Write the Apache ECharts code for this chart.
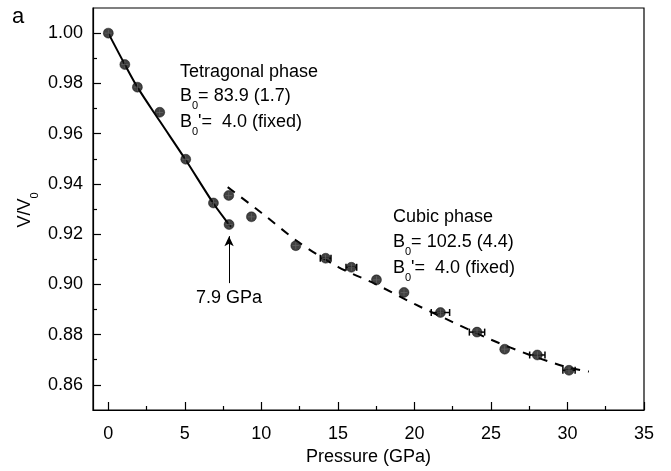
<!DOCTYPE html>
<html>
<head>
<meta charset="utf-8">
<script src="https://cdn.jsdelivr.net/npm/echarts@6/dist/echarts.min.js"></script>
<style>
html,body{margin:0;padding:0;background:#fff;}
#c{width:671px;height:471px;}
</style>
</head>
<body>
<div id="c"></div>
<script>
// ---- data ----
const tetraP = [0, 1.08, 1.90, 3.36, 5.06, 6.87, 7.89];
const tetraV = [1.000, 0.9875, 0.9785, 0.9685, 0.9498, 0.9324, 0.9238];
const cubicP = [7.87, 9.35, 12.25, 14.2, 15.88, 17.52, 19.32, 21.7, 24.09, 25.9, 28.03, 30.1];
const cubicV = [0.9354, 0.9269, 0.9154, 0.9104, 0.9068, 0.9018, 0.8968, 0.8888, 0.8810, 0.8742, 0.8719, 0.8658];
const cubicPErr = [0, 0, 0, 0.35, 0.35, 0, 0, 0.6, 0.5, 0, 0.5, 0.4];
const tetraFitP = [0, 1.08, 1.9, 3.36, 5.06, 6.87, 7.89, 8.0];
const tetraFitV = [1.000, 0.9875, 0.9785, 0.9650, 0.9495, 0.9322, 0.9238, 0.9229];
const cubicFitP = [7.8, 10, 12.5, 15, 17.5, 20, 22.5, 25, 27.5, 30, 31.4];
const cubicFitV = [0.9387, 0.9285, 0.9165, 0.9070, 0.9000, 0.8922, 0.8850, 0.8780, 0.8720, 0.8670, 0.8653];
const xMajor = [0, 5, 10, 15, 20, 25, 30, 35];
const xMinor = [2.5, 7.5, 12.5, 17.5, 22.5, 27.5, 32.5];
const yMajor = [0.86, 0.88, 0.90, 0.92, 0.94, 0.96, 0.98, 1.00];
const yMinor = [0.87, 0.89, 0.91, 0.93, 0.95, 0.97, 0.99];
const arrowP = [7.89, 7.89];
const arrowV = [0.9005, 0.9192];

const FONT = '"Liberation Sans", Arial, sans-serif';
const FS = 18;
const zip = (a, b) => a.map((v, i) => [v, b[i]]);

const chart = echarts.init(document.getElementById('c'), null, {renderer: 'canvas'});

const xBase = {
  type: 'value', min: -1, max: 35, gridIndex: 0, position: 'bottom',
  splitLine: {show: false}
};
const yBase = {
  type: 'value', min: 0.85, max: 1.01, gridIndex: 0, position: 'left',
  splitLine: {show: false}
};

const plusPath = 'path://M4,0h1v4h4v1h-4v4h-1v-4h-4v-1h4z';

const option = {
  animation: false,
  backgroundColor: '#fff',
  grid: {left: 93, right: 27, top: 8, bottom: 59, show: true, borderColor: '#000', borderWidth: 1.2},
  xAxis: [
    Object.assign({}, xBase, {
      axisLine: {show: true, onZero: false, lineStyle: {color: '#000', width: 1.2}},
      axisTick: {show: true, inside: true, length: 8, customValues: xMajor, lineStyle: {color: '#000', width: 1.2}},
      axisLabel: {show: true, customValues: xMajor, margin: 15, color: '#000', fontSize: FS, fontFamily: FONT},
      name: 'Pressure (GPa)', nameLocation: 'middle', nameGap: 38,
      nameTextStyle: {color: '#000', fontSize: FS, fontFamily: FONT}
    }),
    Object.assign({}, xBase, {
      axisLine: {show: false, onZero: false},
      axisTick: {show: true, inside: true, length: 4, customValues: xMinor, lineStyle: {color: '#000', width: 1.2}},
      axisLabel: {show: false}
    })
  ],
  yAxis: [
    Object.assign({}, yBase, {
      axisLine: {show: true, onZero: false, lineStyle: {color: '#000', width: 1.2}},
      axisTick: {show: true, inside: true, length: 8, customValues: yMajor, lineStyle: {color: '#000', width: 1.2}},
      axisLabel: {show: true, customValues: yMajor, margin: 10, color: '#000', fontSize: FS, fontFamily: FONT,
        formatter: v => v.toFixed(2)}
    }),
    Object.assign({}, yBase, {
      axisLine: {show: false, onZero: false},
      axisTick: {show: true, inside: true, length: 4, customValues: yMinor, lineStyle: {color: '#000', width: 1.2}},
      axisLabel: {show: false}
    })
  ],
  series: [
    {
      type: 'line', name: 'tetraFit', data: zip(tetraFitP, tetraFitV), smooth: 0.3,
      showSymbol: false, symbol: 'none', lineStyle: {color: '#000', width: 2}, z: 2,
      markLine: {
        silent: true, symbol: ['none', 'arrow'], symbolSize: [7, 10],
        lineStyle: {color: '#000', width: 1, type: 'solid'}, label: {show: false},
        data: [[{coord: [arrowP[0], arrowV[0]]}, {coord: [arrowP[1], arrowV[1]]}]]
      }
    },
    {
      type: 'line', name: 'cubicFit', data: zip(cubicFitP, cubicFitV), smooth: 0.3,
      showSymbol: false, symbol: 'none', lineStyle: {color: '#000', width: 2, type: [9, 8]}, z: 2
    },
    {
      type: 'custom', name: 'err', z: 3,
      data: cubicP.map((p, i) => [p, cubicV[i], cubicPErr[i]]),
      renderItem: function (params, api) {
        const p = api.value(0), v = api.value(1), e = api.value(2);
        if (!e) return null;
        const a = api.coord([p - e, v]), b = api.coord([p + e, v]);
        const st = {stroke: '#000', lineWidth: 1.5};
        return {type: 'group', children: [
          {type: 'line', shape: {x1: a[0], y1: a[1], x2: b[0], y2: b[1]}, style: st},
          {type: 'line', shape: {x1: a[0], y1: a[1] - 3.5, x2: a[0], y2: a[1] + 3.5}, style: st},
          {type: 'line', shape: {x1: b[0], y1: b[1] - 3.5, x2: b[0], y2: b[1] + 3.5}, style: st}
        ]};
      }
    },
    {
      type: 'scatter', name: 'tetra', data: zip(tetraP, tetraV), symbol: 'circle', symbolSize: 10,
      itemStyle: {color: '#111', borderColor: '#000', borderWidth: 0.5}, z: 4
    },
    {
      type: 'scatter', name: 'cubic', data: zip(cubicP, cubicV), symbol: 'circle', symbolSize: 10,
      itemStyle: {color: '#111', borderColor: '#000', borderWidth: 0.5}, z: 4
    },
    {
      type: 'scatter', name: 'tetraX', data: zip(tetraP, tetraV), symbol: plusPath, symbolSize: 7,
      itemStyle: {color: '#6a6a6a'}, z: 5, silent: true
    },
    {
      type: 'scatter', name: 'cubicX', data: zip(cubicP, cubicV), symbol: plusPath, symbolSize: 7,
      itemStyle: {color: '#6a6a6a'}, z: 5, silent: true
    }
  ],
  graphic: []
};

chart.setOption(option);

const rich = {
  t: {fontSize: FS, fontFamily: FONT, color: '#000'},
  s: {fontSize: 11, fontFamily: FONT, color: '#000', padding: [20, 0, 0, 0]}
};
function txt(x, y, text, extra) {
  return Object.assign({
    type: 'text', x: x, y: y, z: 10, silent: true,
    style: {text: text, rich: rich, fill: '#000', font: FS + 'px ' + FONT, align: 'left', verticalAlign: 'middle'}
  }, extra || {});
}
chart.setOption({
  graphic: [
    txt(12, 17, 'a', {style: {text: 'a', fill: '#000', font: '22px ' + FONT, align: 'left', verticalAlign: 'middle'}}),
    txt(180, 72, '{t|Tetragonal phase}'),
    txt(180, 96, '{t|B}{s|0}{t|= 83.9 (1.7)}'),
    txt(180, 122, "{t|B}{s|0}{t|'=  4.0 (fixed)}"),
    txt(393, 217, '{t|Cubic phase}'),
    txt(393, 242, '{t|B}{s|0}{t|= 102.5 (4.4)}'),
    txt(393, 268, "{t|B}{s|0}{t|'=  4.0 (fixed)}"),
    txt(229, 298, '{t|7.9 GPa}', {style: {text: '{t|7.9 GPa}', rich: rich, align: 'center', verticalAlign: 'middle'}}),
    {
      type: 'text', x: 25, y: 210, rotation: Math.PI / 2, z: 10, silent: true,
      style: {text: '{t|V/V}{s|0}', rich: rich, align: 'center', verticalAlign: 'middle'}
    }
  ]
});
</script>
</body>
</html>
